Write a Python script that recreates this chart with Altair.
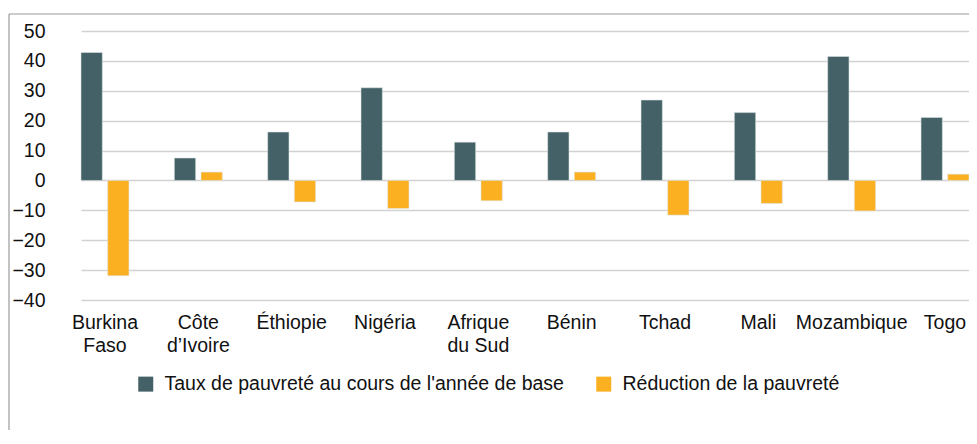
import altair as alt
import pandas as pd

countries = ["Burkina\nFaso", "Côte\nd’Ivoire", "Éthiopie", "Nigéria", "Afrique\ndu Sud",
             "Bénin", "Tchad", "Mali", "Mozambique", "Togo"]
base_rate = [42.8, 7.5, 16.2, 31.0, 12.8, 16.2, 26.9, 22.7, 41.5, 21.1]
reduction = [-31.9, 2.8, -7.2, -9.4, -6.8, 2.8, -11.6, -7.7, -10.2, 2.1]
series = ["Taux de pauvreté au cours de l'année de base", "Réduction de la pauvreté"]
colors = ["#436166", "#FBB021"]
y_ticks = [-40, -30, -20, -10, 0, 10, 20, 30, 40, 50]

rows = []
for c, b, r in zip(countries, base_rate, reduction):
    rows.append({"pays": c, "serie": series[0], "ordre": 0, "valeur": b})
    rows.append({"pays": c, "serie": series[1], "ordre": 1, "valeur": r})
df = pd.DataFrame(rows)

FONT = "Liberation Sans"
FS = 19.5
W, H = 911, 269

bars = alt.Chart(df).mark_bar(stroke="#dfe6e6", strokeWidth=0.8, strokeOpacity=0.7).encode(
    x=alt.X("pays:N", sort=countries, title=None,
            scale=alt.Scale(range=[23, 911], paddingInner=0.486, paddingOuter=0),
            axis=alt.Axis(labelAngle=0, domain=False, ticks=False, labelPadding=13,
                          labelFontSize=FS, labelLineHeight=23, labelColor="#111111",
                          labelFont=FONT, labelBaseline="top",
                          labelExpr="split(datum.label, '\\n')")),
    xOffset=alt.XOffset("serie:N", sort=series, scale=alt.Scale(paddingInner=0.2, paddingOuter=0)),
    y=alt.Y("valeur:Q", title=None,
            scale=alt.Scale(domain=[-40, 50], nice=False, zero=False),
            axis=alt.Axis(values=y_ticks, domain=False, ticks=False, labelPadding=13,
                          labelFontSize=FS, labelColor="#111111", labelFont=FONT,
                          grid=True, gridColor="#d2d2d2", gridWidth=1.5)),
    color=alt.Color("serie:N", sort=series,
                    scale=alt.Scale(domain=series, range=colors),
                    legend=alt.Legend(title=None, orient="none", direction="horizontal",
                                      legendX=78, legendY=343, symbolType="square",
                                      symbolSize=225, symbolStrokeWidth=0,
                                      labelFontSize=FS, labelFont=FONT, labelColor="#111111",
                                      labelOffset=9, columnPadding=30, padding=0,
                                      labelLimit=600)),
)

frame_df = pd.DataFrame({"k": [0]})
frame_top = alt.Chart(frame_df).mark_rule(color="#9a9a9a", strokeWidth=1.2).encode(
    x=alt.value(-49), x2=alt.value(W + 10), y=alt.value(-17))
frame_left = alt.Chart(frame_df).mark_rule(color="#9a9a9a", strokeWidth=1.2).encode(
    x=alt.value(-49), y=alt.value(-17), y2=alt.value(420))

chart = alt.layer(frame_top, frame_left, bars).properties(
    width=W, height=H,
    autosize=alt.AutoSizeParams(type="none"),
    padding={"left": 50, "top": 23, "right": 0, "bottom": 130},
    background="white",
).configure_view(stroke=None)

chart.save("out.html", embed_options={"renderer": "svg", "actions": False})
